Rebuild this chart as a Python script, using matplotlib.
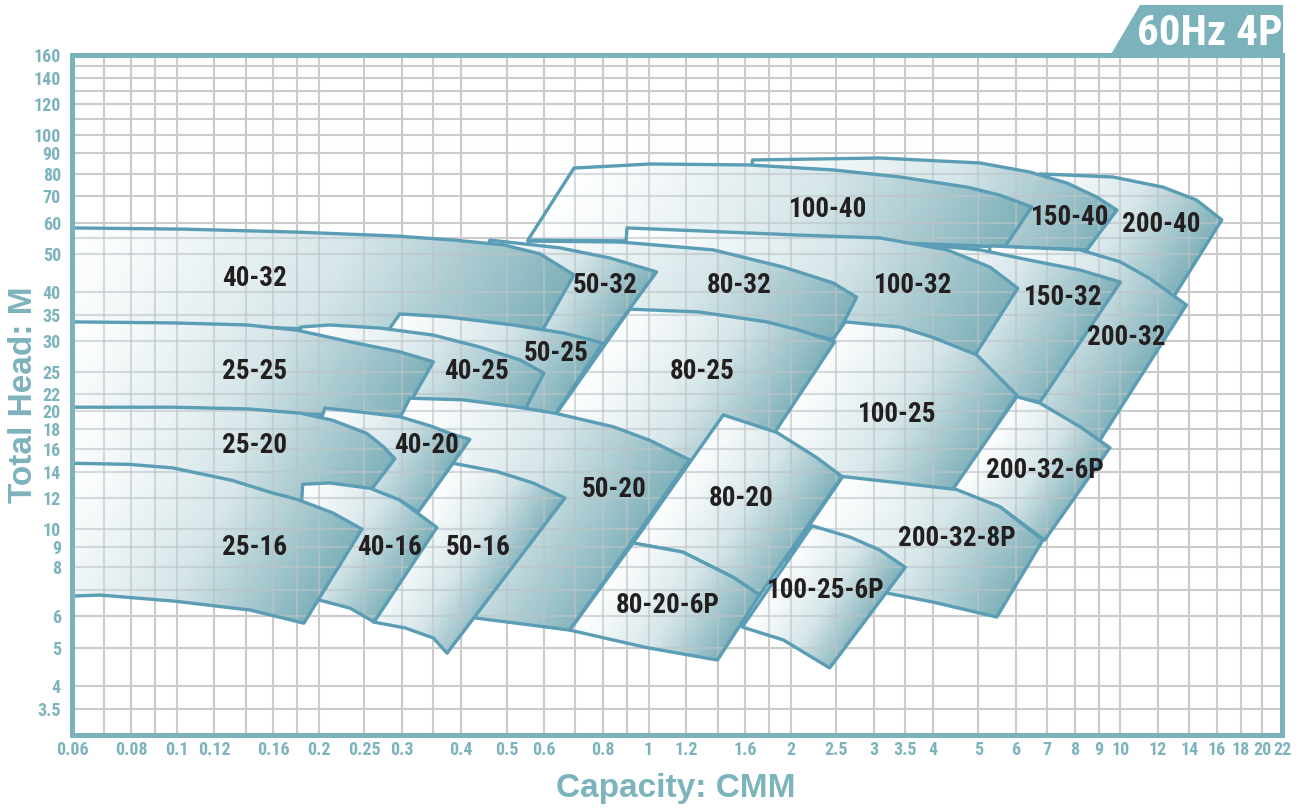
import warnings
import numpy as np
import matplotlib
matplotlib.use("Agg")
import matplotlib.pyplot as plt
from matplotlib.patches import Polygon
from matplotlib.collections import LineCollection
from matplotlib.colors import LinearSegmentedColormap
from matplotlib.ticker import FixedLocator, NullLocator

warnings.filterwarnings("ignore")

# ---- axes grid / tick values (CMM, m) ----
x_grid = [0.06, 0.07, 0.08, 0.09, 0.1, 0.12, 0.14, 0.16, 0.18, 0.2, 0.25, 0.3, 0.35,
          0.4, 0.5, 0.6, 0.7, 0.8, 0.9, 1, 1.2, 1.4, 1.6, 1.8, 2, 2.5, 3, 3.5, 4, 5,
          6, 7, 8, 9, 10, 12, 14, 16, 18, 20, 22]
x_labels = [0.06, 0.08, 0.1, 0.12, 0.16, 0.2, 0.25, 0.3, 0.4, 0.5, 0.6, 0.8, 1, 1.2,
            1.6, 2, 2.5, 3, 3.5, 4, 5, 6, 7, 8, 9, 10, 12, 14, 16, 18, 20, 22]
y_grid = [3.5, 4, 5, 6, 7, 8, 9, 10, 12, 14, 16, 18, 20, 22, 25, 30, 35, 40, 50, 55,
          60, 70, 80, 90, 100, 110, 120, 130, 140, 150, 160]
y_labels = [3.5, 4, 5, 6, 8, 9, 10, 12, 14, 16, 18, 20, 22, 25, 30, 35, 40, 50, 60,
            70, 80, 90, 100, 120, 140, 160]

# ---- pump ranges: top curve and bottom curve, (Q, H) left to right ----
top_200_40 = [(6.75, 79.8), (7.70, 79.3), (9.64, 78.4), (12.3, 73.9), (14.5, 68.5), (16.4, 61.0)]
bot_200_40 = [(6.75, 50.6), (8.49, 49.7), (10.5, 42.4), (13.0, 39.1)]
top_150_40 = [(1.66, 86.6), (3.09, 87.6), (5.04, 85.1), (6.42, 80.7), (7.70, 75.7), (8.91, 69.7), (9.83, 64.6)]
bot_150_40 = [(1.60, 53.9), (3.41, 53.0), (5.69, 52.1), (8.49, 51.2)]
top_100_40 = [(0.695, 82.6), (1.01, 84.6), (1.64, 84.1), (2.46, 81.7), (3.41, 78.4), (4.73, 73.9), (5.55, 70.5), (6.49, 65.8)]
bot_100_40 = [(0.555, 54.2), (1.01, 53.9), (2.09, 53.6), (3.41, 53.3), (5.69, 52.1)]

top_200_32 = [(5.29, 52.4), (8.21, 51.2), (10.0, 47.7), (11.5, 43.4), (13.8, 37.1)]
bot_200_32 = [(5.04, 21.3), (6.75, 20.5), (8.21, 17.85), (9.04, 16.8)]
top_150_32 = [(3.67, 53.0), (5.04, 51.2), (6.42, 48.2), (8.21, 45.5), (10.0, 42.4)]
bot_150_32 = [(3.67, 32.0), (4.96, 27.2), (6.03, 21.5), (6.75, 21.0)]
top_100_32 = [(0.90, 58.2), (1.28, 57.2), (2.09, 55.8), (3.09, 54.9), (4.29, 51.2), (5.29, 46.3), (6.06, 40.9)]
bot_100_32 = [(0.87, 32.0), (2.61, 33.0), (3.41, 32.0), (4.0, 30.2), (4.92, 27.7)]
top_80_32 = [(0.555, 53.9), (0.87, 53.6), (1.37, 51.2), (1.93, 46.3), (2.46, 42.2), (2.76, 38.8)]
bot_80_32 = [(0.649, 34.0), (0.913, 36.0), (1.28, 35.4), (1.78, 33.4), (2.09, 31.8), (2.48, 30.2)]
top_50_32 = [(0.461, 54.2), (0.649, 51.8), (0.829, 48.8), (1.04, 45.0)]
bot_50_32 = [(0.439, 34.0), (0.516, 32.6), (0.659, 31.1), (0.80, 29.3)]
top_40_32 = [(0.06, 58.2), (0.103, 57.8), (0.18, 56.8), (0.293, 55.5), (0.387, 54.2), (0.494, 52.7), (0.589, 50.0), (0.695, 44.2)]
bot_40_32 = [(0.06, 33.2), (0.143, 32.6), (0.233, 32.0), (0.297, 31.5), (0.516, 32.6), (0.594, 31.8)]

top_100_25 = [(2.61, 33.6), (3.41, 32.6), (4.0, 30.7), (4.96, 27.7), (6.03, 21.9)]
bot_100_25 = [(1.52, 13.3), (2.57, 13.2), (3.41, 12.9), (4.41, 12.4)]
top_80_25 = [(0.913, 36.2), (1.28, 35.6), (1.78, 33.6), (2.09, 32.0), (2.48, 29.9)]
bot_80_25 = [(0.633, 19.4), (0.87, 17.3), (1.17, 14.8), (1.56, 15.4), (1.85, 17.6)]
top_50_25 = [(0.297, 35.2), (0.374, 34.6), (0.516, 33.0), (0.659, 31.5), (0.80, 29.7)]
bot_50_25 = [(0.222, 21.3), (0.404, 20.9), (0.516, 20.2), (0.633, 19.5)]
top_40_25 = [(0.183, 32.6), (0.211, 33.0), (0.270, 32.4), (0.35, 31.1), (0.439, 29.0), (0.534, 26.9), (0.60, 24.9)]
bot_40_25 = [(0.183, 20.1), (0.297, 20.8), (0.404, 20.8), (0.547, 20.1)]
top_25_25 = [(0.06, 33.6), (0.0982, 33.4), (0.141, 33.0), (0.18, 32.0), (0.233, 29.9), (0.297, 28.2), (0.35, 26.6)]
bot_25_25 = [(0.06, 20.2), (0.112, 20.1), (0.183, 19.6), (0.251, 19.5), (0.299, 19.15)]

top_200_32_6p = [(6.03, 21.7), (6.75, 20.9), (8.21, 18.2), (9.50, 16.1)]
bot_200_32_6p = [(4.41, 12.6), (5.55, 11.4), (6.91, 9.38)]
top_200_32_8p = [(2.58, 13.6), (3.41, 13.1), (4.50, 12.6), (5.55, 11.4), (6.85, 9.38)]
bot_200_32_8p = [(1.95, 8.34), (3.20, 6.88), (4.0, 6.53), (5.47, 5.98)]

top_80_20 = [(1.44, 19.5), (1.87, 17.6), (2.27, 15.2), (2.57, 13.6)]
bot_80_20 = [(0.927, 9.22), (1.18, 8.75), (1.51, 7.55), (1.72, 6.80)]
top_50_20 = [(0.312, 21.5), (0.404, 21.3), (0.516, 20.5), (0.633, 19.7), (0.841, 18.2), (1.007, 16.8), (1.22, 15.0)]
bot_50_20 = [(0.297, 19.15), (0.361, 6.16), (0.433, 5.94), (0.561, 5.71), (0.681, 5.54)]
top_40_20 = [(0.206, 20.3), (0.248, 19.8), (0.297, 19.3), (0.344, 18.3), (0.385, 17.4), (0.418, 16.9)]
bot_40_20 = [(0.183, 12.8), (0.257, 12.6), (0.297, 11.85), (0.325, 11.05)]
top_25_20 = [(0.06, 20.4), (0.0982, 20.4), (0.141, 20.2), (0.183, 19.7), (0.214, 18.9), (0.253, 17.5), (0.274, 16.2), (0.290, 15.1)]
bot_25_20 = [(0.06, 14.5), (0.0982, 14.0), (0.158, 12.2), (0.233, 10.7)]

top_50_16 = [(0.385, 14.7), (0.477, 14.0), (0.569, 13.1), (0.665, 12.0)]
bot_50_16 = [(0.325, 11.05), (0.261, 5.81), (0.305, 5.61), (0.35, 5.29), (0.374, 4.84)]
top_40_16 = [(0.185, 13.0), (0.211, 13.1), (0.257, 12.7), (0.297, 11.85), (0.356, 10.1)]
bot_40_16 = [(0.178, 6.60), (0.201, 6.60), (0.233, 6.30), (0.262, 5.81)]
top_25_16 = [(0.06, 14.7), (0.0796, 14.6), (0.0982, 14.3), (0.131, 13.3), (0.158, 12.4), (0.18, 11.9), (0.214, 11.0), (0.247, 10.0)]
bot_25_16 = [(0.06, 6.76), (0.0688, 6.80), (0.0992, 6.56), (0.143, 6.23), (0.186, 5.77)]

top_100_25_6p = [(2.22, 10.2), (2.67, 9.55), (3.09, 8.85), (3.5, 8.0)]
bot_100_25_6p = [(1.58, 5.64), (1.93, 5.23), (2.42, 4.44)]
top_80_20_6p = [(0.927, 9.22), (1.18, 8.75), (1.51, 7.55), (1.72, 6.80)]
bot_80_20_6p = [(0.681, 5.54), (0.992, 5.0), (1.40, 4.65)]

# drawing order (first = underneath)
ranges = [
    (top_200_40, bot_200_40), (top_150_40, bot_150_40), (top_100_40, bot_100_40),
    (top_200_32, bot_200_32), (top_150_32, bot_150_32), (top_100_32, bot_100_32),
    (top_80_32, bot_80_32), (top_50_32, bot_50_32), (top_40_32, bot_40_32),
    (top_100_25, bot_100_25), (top_80_25, bot_80_25), (top_50_25, bot_50_25),
    (top_40_25, bot_40_25), (top_25_25, bot_25_25),
    (top_200_32_6p, bot_200_32_6p), (top_200_32_8p, bot_200_32_8p),
    (top_80_20, bot_80_20), (top_50_20, bot_50_20), (top_40_20, bot_40_20), (top_25_20, bot_25_20),
    (top_50_16, bot_50_16), (top_40_16, bot_40_16), (top_25_16, bot_25_16),
    (top_100_25_6p, bot_100_25_6p), (top_80_20_6p, bot_80_20_6p),
]

# model labels
label_names = ["40-32", "25-25", "25-20", "25-16", "40-16", "40-20", "40-25", "50-25",
               "50-32", "50-16", "50-20", "80-32", "80-25", "80-20", "80-20-6P", "100-40",
               "100-32", "100-25", "100-25-6P", "150-40", "150-32", "200-40", "200-32",
               "200-32-6P", "200-32-8P"]
label_q = [0.146, 0.146, 0.146, 0.146, 0.282, 0.339, 0.431, 0.636, 0.809, 0.435, 0.845,
           1.56, 1.30, 1.57, 1.10, 2.40, 3.63, 3.36, 2.38, 7.82, 7.55, 12.2, 10.3, 6.91, 4.50]
label_h = [43.9, 25.4, 16.5, 9.11, 9.11, 16.5, 25.4, 28.3, 42.2, 9.11, 12.8, 42.2, 25.4,
           12.1, 6.49, 65.8, 42.2, 19.8, 7.08, 62.8, 39.3, 60.0, 31.1, 14.3, 9.60]

# ---- style ----
frame_c = "#7cb2bb"
tick_c = "#7db3bd"
line_c = "#5a9db5"
grid_c = "#cbcbcb"
narrow = ["Liberation Sans Narrow", "Roboto Condensed", "DejaVu Sans Condensed", "Liberation Sans"]
plt.rcParams["font.family"] = narrow
plt.rcParams["font.weight"] = "bold"
cmap = LinearSegmentedColormap.from_list("fill", ["#ffffff", "#d6e6e9", "#80b1ba"])

W, H = 1303, 808
fig = plt.figure(figsize=(W / 100, H / 100), dpi=100)
ax = fig.add_axes([72 / W, 1 - 735 / H, 1210 / W, 680 / H])
ax.set_xscale("log")
ax.set_yscale("log")
ax.set_xlim(0.06, 22)
ax.set_ylim(3, 160)

ax.xaxis.set_major_locator(FixedLocator(x_grid))
ax.xaxis.set_minor_locator(NullLocator())
ax.yaxis.set_major_locator(FixedLocator(y_grid))
ax.yaxis.set_minor_locator(NullLocator())
ax.set_xticklabels([f"{v:g}" if v in x_labels else "" for v in x_grid])
ax.set_yticklabels([f"{v:g}" if v in y_labels else "" for v in y_grid])
ax.tick_params(axis="x", length=0, pad=4.5, labelsize=13, labelcolor=tick_c)
ax.tick_params(axis="y", length=0, pad=8, labelsize=13, labelcolor=tick_c)
ax.grid(True, color=grid_c, lw=1.5)
ax.set_axisbelow(True)
for s in ax.spines.values():
    s.set_color(frame_c)
    s.set_linewidth(3.6)
    s.set_zorder(300)

grid_segs = [[(q, 3), (q, 160)] for q in x_grid] + [[(0.06, h), (22, h)] for h in y_grid]


def tval(q, h):
    d = ax.transData.transform(np.column_stack([q, h]))
    return d[:, 0] - 0.618 * d[:, 1]


# draw each range: gradient fill, grid showing through, outline
for i, (top, bot) in enumerate(ranges):
    z = 2 + i * 3
    verts = np.array(top + bot[::-1])
    q, h = verts[:, 0], verts[:, 1]
    tv = tval(q, h)
    t0, t1 = tv.min(), tv.max()
    qq, hh = np.meshgrid(np.geomspace(q.min(), q.max(), 90),
                         np.geomspace(h.min(), h.max(), 90))
    t = (tval(qq.ravel(), hh.ravel()) - t0) / (t1 - t0)
    t = np.clip(t, 0, 1).reshape(qq.shape) ** 1.15
    edge = Polygon(verts, closed=True, fill=False, ec=line_c, lw=2.4,
                   joinstyle="round", zorder=z + 0.6)
    ax.add_patch(edge)
    mesh = ax.pcolormesh(qq, hh, t, cmap=cmap, vmin=0, vmax=1,
                         shading="gouraud", zorder=z)
    mesh.set_clip_path(edge)
    lc = LineCollection(grid_segs, colors="#bcc4c7", linewidths=1.5, alpha=0.6,
                        zorder=z + 0.3)
    ax.add_collection(lc)
    lc.set_clip_path(edge)

for name, q, h in zip(label_names, label_q, label_h):
    ax.annotate(name, (q, h), xytext=(0, -7.0), textcoords="offset points",
                ha="center", va="baseline", fontsize=19.5, color="#231f20",
                weight="bold", zorder=200)

ax.set_xlim(0.06, 22)
ax.set_ylim(3, 160)

# axis titles
fig.text(676 / W, 1 - 797 / H, "Capacity: CMM", ha="center", va="baseline",
         fontsize=24, color=tick_c, family="Liberation Sans", weight="bold")
fig.text(32 / W, 1 - 395 / H, "Total Head: M", ha="center", va="baseline",
         rotation=90, rotation_mode="anchor", fontsize=24, color=tick_c,
         family="Liberation Sans", weight="bold")

# badge
badge = Polygon([(1140 / W, 1 - 5 / H), (1283 / W, 1 - 5 / H), (1283 / W, 1 - 56 / H),
                 (1110 / W, 1 - 56 / H)], closed=True, transform=fig.transFigure,
                fc=frame_c, ec="none")
fig.patches.append(badge)
fig.text(1210 / W, 1 - 45 / H, "60Hz 4P", ha="center", va="baseline", fontsize=31,
         color="white", weight="bold")

fig.savefig("out.png", dpi=100)
